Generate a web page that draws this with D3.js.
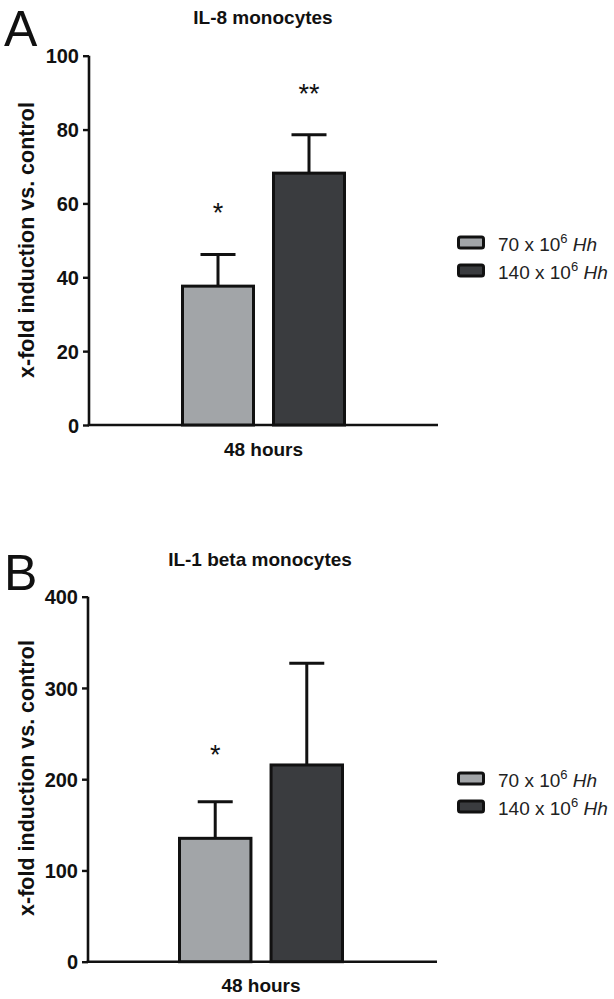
<!DOCTYPE html>
<html><head><meta charset="utf-8">
<script src="https://cdn.jsdelivr.net/npm/d3@7"></script>
<style>body{margin:0;background:#fff}svg{display:block}</style>
</head><body>
<script>
// ---- data ----
const groups = ["70 x 10^6 Hh", "140 x 10^6 Hh"];
const legendNum = ["70 x 10", "140 x 10"];
const colors = ["#a2a5a8", "#3a3c3f"];
const il8Means = [37.6, 68.2];
const il8Err = [8.6, 10.4];
const il8Sig = ["*", "**"];
const il8Ticks = [0, 20, 40, 60, 80, 100];
const il1Means = [135.2, 215.6];
const il1Err = [40.1, 111.4];
const il1Sig = ["*", ""];
const il1Ticks = [0, 100, 200, 300, 400];
const xCategory = "48 hours";
const yTitle = "x-fold induction vs. control";

const svg = d3.select("body").append("svg").attr("width", 614).attr("height", 999);
const F = "Liberation Sans, Arial, sans-serif";

function panel(o) {
  const g = svg.append("g");
  const y = d3.scaleLinear().domain([0, o.max]).range([o.y0, o.yTop]);
  const x = d3.scaleBand().domain(groups).range([o.bx0, o.bx1]).paddingInner(17 / 91).paddingOuter(0);
  // panel letter
  g.append("text").attr("x", o.lx).attr("y", o.ly).attr("font-family", F).attr("font-size", 50)
    .attr("fill", "#111").text(o.letter);
  // title
  g.append("text").attr("x", o.tx).attr("y", o.ty).attr("text-anchor", "middle").attr("font-family", F)
    .attr("font-weight", "bold").attr("font-size", 19).attr("fill", "#111").text(o.title);
  // y axis
  const ya = g.append("g").attr("transform", `translate(${o.ax},0)`)
    .call(d3.axisLeft(y).tickValues(o.ticks).tickSize(6).tickPadding(4).tickFormat(d3.format("d")));
  ya.select(".domain").attr("stroke", "#111").attr("stroke-width", 2.6).attr("d", `M0,${o.y0}V${o.yTop}`);
  ya.selectAll(".tick line").attr("stroke", "#111").attr("stroke-width", 2.4);
  ya.selectAll(".tick text").attr("font-family", F).attr("font-weight", "bold").attr("font-size", 20)
    .attr("fill", "#111").attr("dy", "0.36em");
  // x axis line
  g.append("line").attr("x1", o.ax - 1.3).attr("x2", o.axEnd).attr("y1", o.y0).attr("y2", o.y0)
    .attr("stroke", "#111").attr("stroke-width", 2.6);
  // bars
  const bw = x.bandwidth();
  const sw = 3;
  groups.forEach((gname, i) => {
    const cx = x(gname) + bw / 2;
    const top = y(o.means[i] + o.err[i]);
    g.append("line").attr("x1", cx).attr("x2", cx).attr("y1", y(o.means[i])).attr("y2", top)
      .attr("stroke", "#111").attr("stroke-width", 3);
    g.append("line").attr("x1", cx - 17.5).attr("x2", cx + 17.5).attr("y1", top).attr("y2", top)
      .attr("stroke", "#111").attr("stroke-width", 3);
    g.append("rect").attr("x", x(gname) + sw / 2).attr("width", bw - sw)
      .attr("y", y(o.means[i])).attr("height", y(0) - y(o.means[i]))
      .attr("fill", colors[i]).attr("stroke", "#111").attr("stroke-width", sw);
    if (o.sig[i]) {
      g.append("text").attr("x", cx).attr("y", top - o.starOff).attr("text-anchor", "middle")
        .attr("font-family", F).attr("font-size", 27).attr("fill", "#111").text(o.sig[i]);
    }
  });
  // category label
  g.append("text").attr("x", (o.bx0 + o.bx1) / 2).attr("y", o.catY).attr("text-anchor", "middle")
    .attr("font-family", F).attr("font-weight", "bold").attr("font-size", 19).attr("fill", "#111").text(xCategory);
  // y title
  g.append("text").attr("transform", `translate(${o.ytx},${o.yty}) rotate(-90)`).attr("text-anchor", "middle")
    .attr("font-family", F).attr("font-weight", "bold").attr("font-size", 21.5).attr("fill", "#111").text(yTitle);
  // legend
  groups.forEach((gname, i) => {
    const ly = o.legY + i * o.legStep;
    g.append("rect").attr("x", 458.5).attr("y", ly - 6).attr("width", 25).attr("height", 11).attr("rx", 2)
      .attr("fill", colors[i]).attr("stroke", "#111").attr("stroke-width", 3);
    const t = g.append("text").attr("x", 498).attr("y", ly + 8).attr("font-family", F).attr("font-size", 19)
      .attr("fill", "#222");
    t.append("tspan").text(legendNum[i]);
    t.append("tspan").attr("font-size", 13).attr("dy", -8).text("6");
    t.append("tspan").attr("dy", 8).text(" ");
    t.append("tspan").attr("font-style", "italic").text("Hh");
  });
}

panel({
  letter: "A", lx: 4, ly: 46, title: "IL-8 monocytes", tx: 263, ty: 24,
  max: 100, y0: 425, yTop: 55.7, ticks: il8Ticks, ax: 89, axEnd: 438,
  bx0: 181, bx1: 346, means: il8Means, err: il8Err, sig: il8Sig, starOff: 32,
  catY: 456, ytx: 34, yty: 240, legY: 243, legStep: 28
});
panel({
  letter: "B", lx: 4, ly: 590, title: "IL-1 beta monocytes", tx: 260, ty: 566,
  max: 400, y0: 961.7, yTop: 596.7, ticks: il1Ticks, ax: 88, axEnd: 437,
  bx0: 178, bx1: 344, means: il1Means, err: il1Err, sig: il1Sig, starOff: 38,
  catY: 992, ytx: 34, yty: 778, legY: 779, legStep: 28
});
</script>
</body></html>
